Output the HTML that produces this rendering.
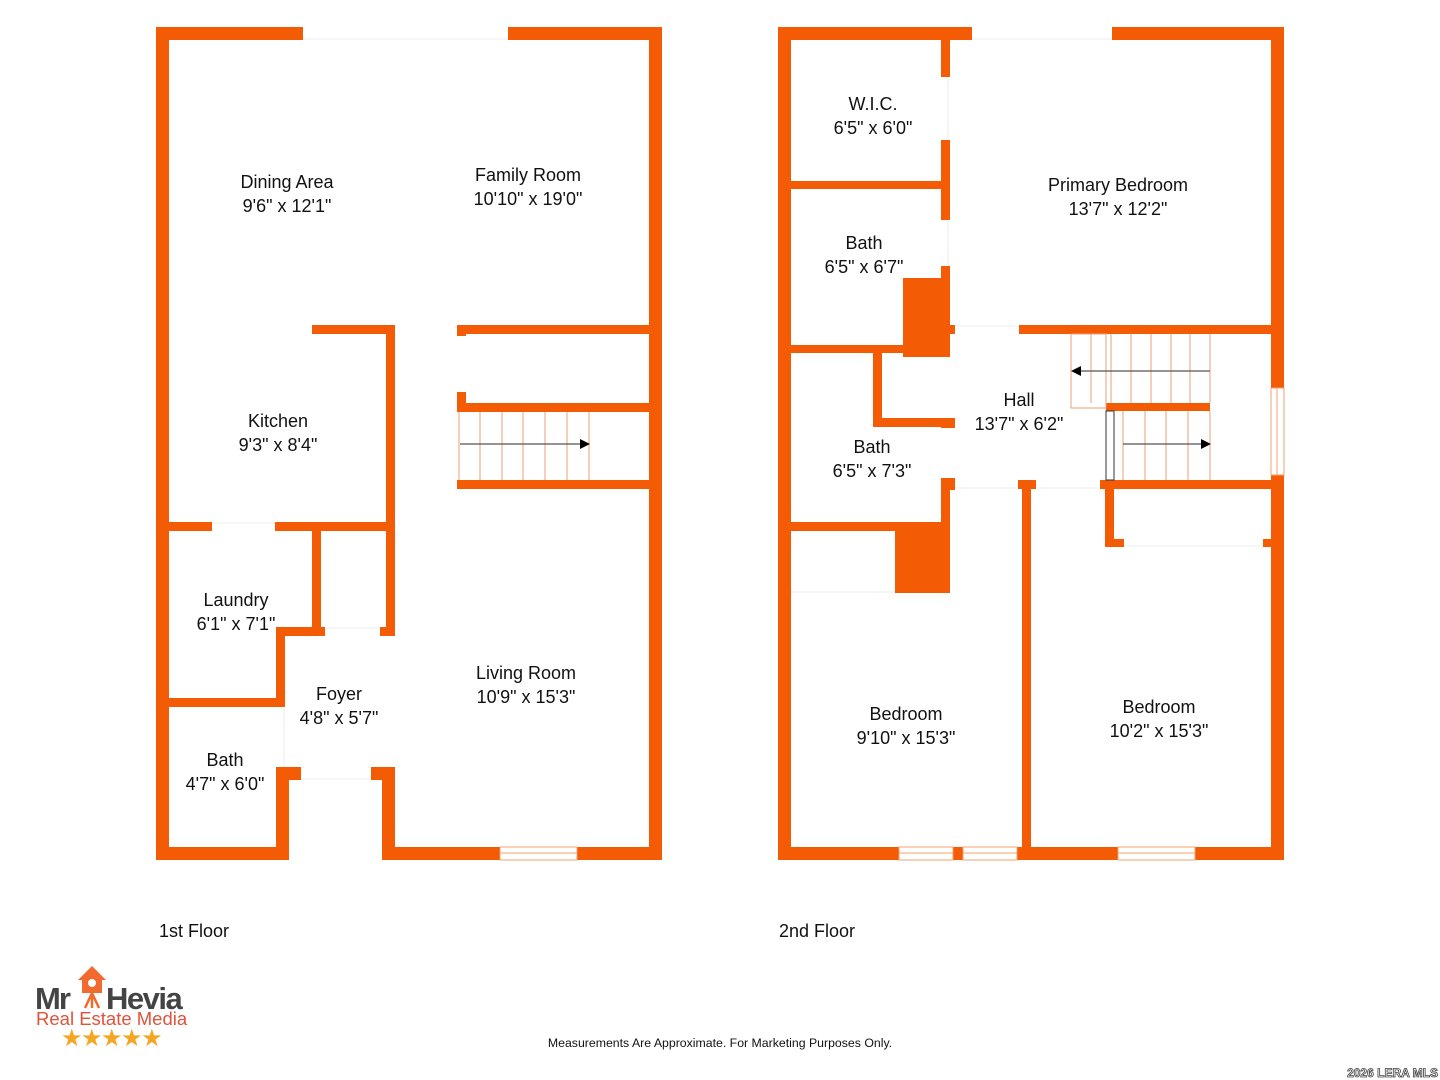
<!DOCTYPE html>
<html><head><meta charset="utf-8"><style>
body{margin:0;background:#fff}
svg{display:block}
text{font-family:"Liberation Sans",sans-serif;fill:#111}
.l{font-size:18px;text-anchor:middle}
</style></head><body>
<svg width="1440" height="1080" viewBox="0 0 1440 1080" xmlns="http://www.w3.org/2000/svg">
<g stroke="#eee" stroke-width="1">
<line x1="303" y1="39" x2="508" y2="39"/><line x1="972" y1="39" x2="1112" y2="39"/>
<line x1="948" y1="77" x2="948" y2="140"/><line x1="948" y1="220" x2="948" y2="266"/>
<line x1="955" y1="326" x2="1019" y2="326"/><line x1="955" y1="488" x2="1018" y2="488"/><line x1="1036" y1="488" x2="1100" y2="488"/>
<line x1="1124" y1="546" x2="1263" y2="546"/><line x1="791" y1="592" x2="895" y2="592"/>
<line x1="301" y1="779" x2="371" y2="779"/><line x1="325" y1="628" x2="380" y2="628"/><line x1="212" y1="523" x2="275" y2="523"/>
<line x1="284" y1="707" x2="284" y2="767"/>
</g>
<g fill="#F35B04">
<rect x="156" y="27" width="13" height="833"/>
<rect x="156" y="27" width="147" height="13"/>
<rect x="508" y="27" width="154" height="13"/>
<rect x="649" y="27" width="13" height="833"/>
<rect x="156" y="847" width="133" height="13"/>
<rect x="382" y="847" width="280" height="13"/>
<rect x="312" y="325" width="83" height="9"/>
<rect x="386" y="325" width="9" height="311"/>
<rect x="457" y="325" width="205" height="9"/>
<rect x="457" y="403" width="205" height="9"/>
<rect x="457" y="480" width="205" height="9"/>
<rect x="457" y="325" width="9" height="11"/>
<rect x="457" y="392" width="9" height="20"/>
<rect x="169" y="522" width="43" height="9"/>
<rect x="275" y="522" width="120" height="9"/>
<rect x="312" y="522" width="9" height="114"/>
<rect x="276" y="627" width="49" height="9"/>
<rect x="380" y="627" width="15" height="9"/>
<rect x="169" y="698" width="115" height="9"/>
<rect x="276" y="627" width="9" height="80"/>
<rect x="276" y="767" width="13" height="93"/>
<rect x="289" y="767" width="12" height="13"/>
<rect x="371" y="767" width="24" height="13"/>
<rect x="382" y="767" width="13" height="93"/>
<rect x="778" y="27" width="13" height="833"/>
<rect x="778" y="27" width="194" height="13"/>
<rect x="1112" y="27" width="172" height="13"/>
<rect x="1271" y="27" width="13" height="833"/>
<rect x="778" y="847" width="506" height="13"/>
<rect x="941" y="40" width="9" height="37"/>
<rect x="941" y="140" width="9" height="80"/>
<rect x="791" y="181" width="159" height="8"/>
<rect x="903" y="278" width="47" height="79"/>
<rect x="941" y="266" width="9" height="12"/>
<rect x="791" y="345" width="159" height="8"/>
<rect x="941" y="325" width="14" height="9"/>
<rect x="1019" y="325" width="265" height="9"/>
<rect x="873" y="353" width="9" height="74"/>
<rect x="873" y="418" width="77" height="9"/>
<rect x="941" y="418" width="14" height="10"/>
<rect x="941" y="478" width="14" height="12"/>
<rect x="791" y="522" width="159" height="9"/>
<rect x="941" y="478" width="9" height="115"/>
<rect x="895" y="525" width="55" height="68"/>
<rect x="1018" y="480" width="18" height="9"/>
<rect x="1100" y="480" width="184" height="9"/>
<rect x="1022" y="480" width="9" height="380"/>
<rect x="1105" y="489" width="9" height="58"/>
<rect x="1105" y="539" width="19" height="8"/>
<rect x="1263" y="539" width="8" height="8"/>
<rect x="1106" y="403" width="104" height="8"/>
</g>
<g fill="#fff" stroke="#F3A070" stroke-width="1">
<rect x="500" y="847" width="77" height="13"/>
<rect x="899" y="847" width="54" height="13"/>
<rect x="963" y="847" width="54" height="13"/>
<rect x="1118" y="847" width="77" height="13"/>
<rect x="1271" y="388" width="13" height="87"/>
</g>
<g stroke="#F3A070" stroke-width="1">
<line x1="500" y1="853" x2="577" y2="853"/><line x1="899" y1="853" x2="953" y2="853"/>
<line x1="963" y1="853" x2="1017" y2="853"/><line x1="1118" y1="853" x2="1195" y2="853"/>
<line x1="1277" y1="388" x2="1277" y2="475"/>
</g>
<g stroke="#E8A07A" stroke-width="1" fill="none">
<line x1="459" y1="412" x2="459" y2="480"/><line x1="480" y1="412" x2="480" y2="480"/><line x1="502" y1="412" x2="502" y2="480"/><line x1="523" y1="412" x2="523" y2="480"/><line x1="545" y1="412" x2="545" y2="480"/><line x1="567" y1="412" x2="567" y2="480"/><line x1="589" y1="412" x2="589" y2="480"/>
<rect x="1071" y="334" width="35" height="74"/>
<line x1="1091" y1="334" x2="1091" y2="403"/><line x1="1111" y1="334" x2="1111" y2="403"/><line x1="1131" y1="334" x2="1131" y2="403"/><line x1="1151" y1="334" x2="1151" y2="403"/><line x1="1171" y1="334" x2="1171" y2="403"/><line x1="1190" y1="334" x2="1190" y2="403"/><line x1="1210" y1="334" x2="1210" y2="403"/>
<line x1="1123" y1="411" x2="1123" y2="480"/><line x1="1145" y1="411" x2="1145" y2="480"/><line x1="1166" y1="411" x2="1166" y2="480"/><line x1="1188" y1="411" x2="1188" y2="480"/><line x1="1210" y1="411" x2="1210" y2="480"/>
</g>
<rect x="1106" y="411" width="8" height="69" fill="#fff" stroke="#333" stroke-width="1"/>
<g stroke="#555" stroke-width="1.2">
<line x1="460" y1="444" x2="582" y2="444"/><line x1="1080" y1="371" x2="1210" y2="371"/><line x1="1123" y1="444" x2="1203" y2="444"/>
</g>
<g fill="#000">
<polygon points="590,444 580,439 580,449"/>
<polygon points="1071,371 1081,366 1081,376"/>
<polygon points="1211,444 1201,439 1201,449"/>
</g>
<text class="l" x="287" y="188">Dining Area</text><text class="l" x="287" y="212">9'6" x 12'1"</text>
<text class="l" x="528" y="181">Family Room</text><text class="l" x="528" y="205">10'10" x 19'0"</text>
<text class="l" x="278" y="427">Kitchen</text><text class="l" x="278" y="451">9'3" x 8'4"</text>
<text class="l" x="236" y="606">Laundry</text><text class="l" x="236" y="630">6'1" x 7'1"</text>
<text class="l" x="339" y="700">Foyer</text><text class="l" x="339" y="724">4'8" x 5'7"</text>
<text class="l" x="526" y="679">Living Room</text><text class="l" x="526" y="703">10'9" x 15'3"</text>
<text class="l" x="225" y="766">Bath</text><text class="l" x="225" y="790">4'7" x 6'0"</text>
<text class="l" x="873" y="110">W.I.C.</text><text class="l" x="873" y="134">6'5" x 6'0"</text>
<text class="l" x="1118" y="191">Primary Bedroom</text><text class="l" x="1118" y="215">13'7" x 12'2"</text>
<text class="l" x="864" y="249">Bath</text><text class="l" x="864" y="273">6'5" x 6'7"</text>
<text class="l" x="1019" y="406">Hall</text><text class="l" x="1019" y="430">13'7" x 6'2"</text>
<text class="l" x="872" y="453">Bath</text><text class="l" x="872" y="477">6'5" x 7'3"</text>
<text class="l" x="906" y="720">Bedroom</text><text class="l" x="906" y="744">9'10" x 15'3"</text>
<text class="l" x="1159" y="713">Bedroom</text><text class="l" x="1159" y="737">10'2" x 15'3"</text>
<text x="159" y="937" style="font-size:18px">1st Floor</text>
<text x="779" y="937" style="font-size:18px">2nd Floor</text>
<text x="720" y="1047" style="font-size:12.3px;text-anchor:middle">Measurements Are Approximate. For Marketing Purposes Only.</text>
<text x="1438" y="1077" style="font-size:12px;font-weight:bold;text-anchor:end;fill:#fff;stroke:#444;stroke-width:0.8">2026 LERA MLS</text>
<polygon points="78,980 92,966 106,980 102,980 102,993 82,993 82,980" fill="#F26A2E"/>
<circle cx="92" cy="983" r="4" fill="#fff"/>
<text x="35" y="1009" style="font-size:31px;font-weight:bold;fill:#444;letter-spacing:-2px">Mr</text>
<text x="106" y="1009" style="font-size:31px;font-weight:bold;fill:#444;letter-spacing:-1.5px">Hevia</text>
<path d="M92 993 L85 1008 M92 993 L99 1008 M92 993 L92 1008" stroke="#F26A2E" stroke-width="2.5"/>
<text x="36" y="1025" style="font-size:18.5px;fill:#E0523A">Real Estate Media</text>
<text x="61" y="1046" style="font-size:24px;fill:#F5A623;letter-spacing:-1.5px">★★★★★</text>
</svg>
</body></html>
